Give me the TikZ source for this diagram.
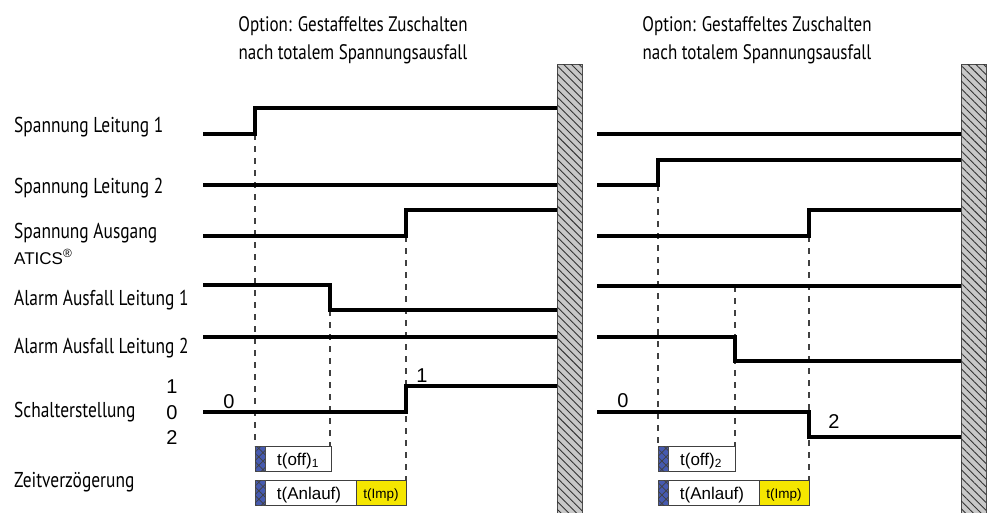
\documentclass[tikz,border=0pt]{standalone}
\usepackage{fontspec}
\setmainfont{Liberation Sans}
\newfontfamily\condfont[FakeStretch=0.81]{PT Sans}
\usetikzlibrary{patterns.meta}
\definecolor{bargray}{RGB}{200,200,200}
\definecolor{hatchblue}{RGB}{70,90,175}
\definecolor{impyellow}{RGB}{245,230,0}
\tikzset{
  sig/.style={line width=3.2pt, line join=miter, line cap=butt},
  dsh/.style={line width=1.3pt, draw=black!75, dash pattern=on 6pt off 6pt},
  lbl/.style={font=\condfont\fontsize{21.5}{23}\selectfont, anchor=base west, inner sep=0pt},
  ttl/.style={font=\condfont\fontsize{21}{23}\selectfont, anchor=base, inner sep=0pt},
  num/.style={font=\fontsize{20}{22}\selectfont, anchor=base, inner sep=0pt},
  boxtxt/.style={font=\fontsize{17}{19}\selectfont, anchor=base, inner sep=0pt},
  imptxt/.style={font=\fontsize{13.5}{15}\selectfont, anchor=base, inner sep=0pt},
  hbar/.style={draw=black!70, line width=0.9pt, fill=bargray,
    postaction={pattern={Lines[angle=-45,distance=5.5pt,line width=0.9pt]}, pattern color=black!80}},
  bluestrip/.style={fill=hatchblue, draw=black!70, line width=0.6pt,
    postaction={pattern={Hatch[angle=45,distance=6pt,line width=0.7pt]}, pattern color=black!75}},
  wbox/.style={draw=black!75, line width=0.9pt, fill=white},
  ybox/.style={draw=black!75, line width=0.9pt, fill=impyellow},
}
\begin{document}
\begin{tikzpicture}[x=1pt,y=-1pt]
\useasboundingbox[fill=white] (0,0) rectangle (992,512);

% titles
\node[ttl] (t1a) at (353,31) {Option: Gestaffeltes Zuschalten};
\node[ttl] (t1b) at (353,59) {nach totalem Spannungsausfall};
\node[ttl] (t2a) at (757,31) {Option: Gestaffeltes Zuschalten};
\node[ttl] (t2b) at (757,59) {nach totalem Spannungsausfall};

% row labels
\node[lbl] (l1) at (14,132) {Spannung Leitung 1};
\node[lbl] (l2) at (14,193) {Spannung Leitung 2};
\node[lbl] (l3) at (14,238) {Spannung Ausgang};
\node[anchor=base west, inner sep=0pt, font=\fontsize{17}{19}\selectfont] (l3b) at (14,264) {ATICS\textsuperscript{\textregistered}};
\node[lbl] (l4) at (14,305) {Alarm Ausfall Leitung 1};
\node[lbl] (l5) at (14,353) {Alarm Ausfall Leitung 2};
\node[lbl] (l6) at (14,417) {Schalterstellung};
\node[lbl] (l7) at (14,487) {Zeitverzögerung};
\node[num] (p1) at (172,393) {1};
\node[num] (p0) at (172,419) {0};
\node[num] (p2) at (172,444) {2};

% dashed guide lines (left)
\draw[dsh] (255,134) -- (255,446);
\draw[dsh] (330,310) -- (330,446);
\draw[dsh] (406,236) -- (406,480);
% dashed guide lines (right)
\draw[dsh] (658,185) -- (658,446);
\draw[dsh] (735,286) -- (735,446);
\draw[dsh] (809,236) -- (809,480);

% signals left
\draw[sig] (203,134) -- (255,134) -- (255,108) -- (557,108);
\draw[sig] (203,185) -- (557,185);
\draw[sig] (203,236) -- (406,236) -- (406,210) -- (557,210);
\draw[sig] (203,285) -- (330,285) -- (330,310) -- (557,310);
\draw[sig] (203,337) -- (557,337);
\draw[sig] (203,412) -- (406,412) -- (406,386) -- (557,386);
\node[num] (s0l) at (229,408) {0};
\node[num] (s1l) at (422,382) {1};

% signals right
\draw[sig] (597,134) -- (961,134);
\draw[sig] (597,185) -- (658,185) -- (658,160) -- (961,160);
\draw[sig] (597,236) -- (809,236) -- (809,210) -- (961,210);
\draw[sig] (597,286) -- (961,286);
\draw[sig] (597,337) -- (735,337) -- (735,361) -- (961,361);
\draw[sig] (597,412) -- (809,412) -- (809,437) -- (961,437);
\node[num] (s0r) at (623,407) {0};
\node[num] (s2r) at (834,428) {2};

% time boxes left
\draw[wbox] (255,446) rectangle (331,471);
\draw[bluestrip] (255,446) rectangle (265,471);
\node[boxtxt] (toff1) at (298,465) {t(off)\textsubscript{1}};
\draw[wbox] (255,480) rectangle (356,505);
\draw[bluestrip] (255,480) rectangle (265,505);
\draw[ybox] (356,480) rectangle (406,505);
\node[boxtxt] (tan1) at (309,499) {t(Anlauf)};
\node[imptxt] (timp1) at (381,498) {t(Imp)};

% time boxes right
\draw[wbox] (658,446) rectangle (735,471);
\draw[bluestrip] (658,446) rectangle (668,471);
\node[boxtxt] (toff2) at (701,465) {t(off)\textsubscript{2}};
\draw[wbox] (658,480) rectangle (759,505);
\draw[bluestrip] (658,480) rectangle (668,505);
\draw[ybox] (759,480) rectangle (809,505);
\node[boxtxt] (tan2) at (712,499) {t(Anlauf)};
\node[imptxt] (timp2) at (784,498) {t(Imp)};

% hatched bars
\draw[hbar] (557,64) rectangle (582,513);
\draw[hbar] (961,64) rectangle (986,513);
\end{tikzpicture}
\end{document}
